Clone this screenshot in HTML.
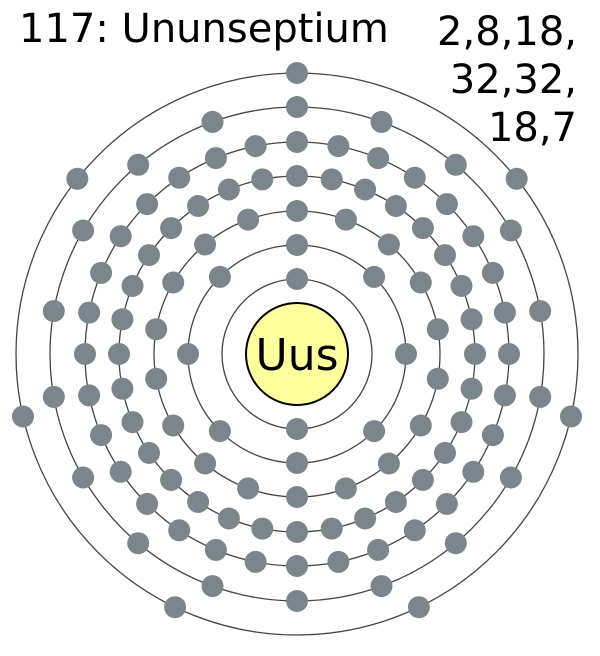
<!DOCTYPE html>
<html><head><meta charset="utf-8">
<style>html,body{margin:0;padding:0;background:#fff;width:600px;height:656px;overflow:hidden}</style>
</head><body>
<svg id="s" width="600" height="656" viewBox="0 0 600 656" xmlns="http://www.w3.org/2000/svg">
<g fill="none" stroke="#444" stroke-width="1.3">
<circle cx="297" cy="354" r="75"/>
<circle cx="297" cy="354" r="109"/>
<circle cx="297" cy="354" r="143"/>
<circle cx="297" cy="354" r="178"/>
<circle cx="297" cy="354" r="212"/>
<circle cx="297" cy="354" r="247"/>
<circle cx="297" cy="354" r="281"/>
</g>
<circle cx="297" cy="354" r="51" fill="#ffff9f" stroke="#000" stroke-width="2"/>
<text x="297" y="370" font-family="DejaVu Sans, Liberation Sans, sans-serif" font-size="44" text-anchor="middle" fill="#000">Uus</text>
<g id="e" fill="#7a868b"></g>
<g font-family="DejaVu Sans, Liberation Sans, sans-serif" font-size="40" fill="#000">
<text x="19" y="42">117: Ununseptium</text>
<text x="577" y="45" text-anchor="end">2,8,18,</text>
<text x="577" y="93" text-anchor="end">32,32,</text>
<text x="577" y="141" text-anchor="end">18,7</text>
</g>
</svg>
<script>
var shells=[[75,2],[109,8],[143,18],[178,32],[212,32],[247,18],[281,7]];
var g=document.getElementById('e'),ns='http://www.w3.org/2000/svg';
shells.forEach(function(s){for(var i=0;i<s[1];i++){var a=2*Math.PI*i/s[1];
var c=document.createElementNS(ns,'circle');
c.setAttribute('cx',(297+s[0]*Math.sin(a)).toFixed(1));
c.setAttribute('cy',(354-s[0]*Math.cos(a)).toFixed(1));
c.setAttribute('r','11');g.appendChild(c);}});
</script>
</body></html>
